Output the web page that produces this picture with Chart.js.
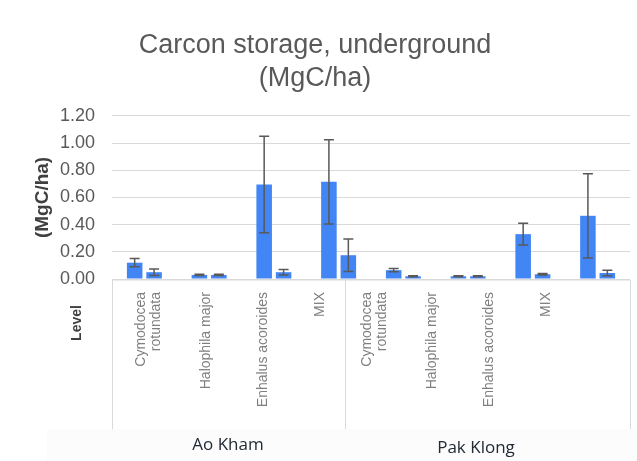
<!DOCTYPE html>
<html>
<head>
<meta charset="utf-8">
<title>Carcon storage, underground</title>
<script src="https://cdn.jsdelivr.net/npm/chart.js@4.4.1/dist/chart.umd.min.js"></script>
<style>
  html, body { margin: 0; padding: 0; background: #fff; }
  canvas { display: block; }
</style>
</head>
<body>
<canvas id="barChart" width="637" height="461"></canvas>
<script>
// sites and species along the category axis
const sites = ["Ao Kham", "Pak Klong"];
const species = [["Cymodocea", "rotundata"], "Halophila major", "Enhalus acoroides", "MIX"];
const yTicks = [0, 0.2, 0.4, 0.6, 0.8, 1.0, 1.2];

// first and second bar of each pair, with +/- error
const valuesA = [0.12, 0.03, 0.695, 0.715, 0.065, 0.02, 0.33, 0.465];
const errorsA = [0.03, 0.005, 0.355, 0.31, 0.012, 0.004, 0.08, 0.31];
const valuesB = [0.05, 0.03, 0.05, 0.175, 0.02, 0.02, 0.035, 0.044];
const errorsB = [0.024, 0.005, 0.02, 0.12, 0.004, 0.004, 0.005, 0.02];

const labels = sites.flatMap(site => species.map(sp => site + " " + [].concat(sp).join(" ")));
const font = "'Liberation Sans', Arial, sans-serif";

const errorBars = {
  id: 'errorBars',
  afterDatasetsDraw(chart) {
    const ctx = chart.ctx;
    const y = chart.scales.y;
    ctx.save();
    ctx.strokeStyle = '#595959';
    ctx.lineWidth = 1.5;
    chart.data.datasets.forEach((ds, i) => {
      chart.getDatasetMeta(i).data.forEach((bar, j) => {
        const v = ds.data[j], e = ds.errors[j];
        const top = y.getPixelForValue(v + e);
        const bottom = y.getPixelForValue(Math.max(v - e, 0));
        ctx.beginPath();
        ctx.moveTo(bar.x, top); ctx.lineTo(bar.x, bottom);
        ctx.moveTo(bar.x - 5, top); ctx.lineTo(bar.x + 5, top);
        ctx.moveTo(bar.x - 5, bottom); ctx.lineTo(bar.x + 5, bottom);
        ctx.stroke();
      });
    });
    ctx.restore();
  }
};

// the label table under the plot (as pasted from the spreadsheet)
const labelTable = {
  id: 'labelTable',
  afterDraw(chart) {
    const ctx = chart.ctx;
    const top = chart.chartArea.bottom + 1;
    const bottom = 429;
    const groupEdges = [chart.chartArea.left, 345, chart.chartArea.right];
    const labelOffsets = [37, 30];
    const labelStep = 57;
    const siteX = [228, 476];

    ctx.save();
    ctx.fillStyle = '#fcfcfc';
    ctx.fillRect(47, bottom, chart.width - 47, chart.height - bottom);

    ctx.strokeStyle = '#d9d9d9';
    ctx.lineWidth = 1;
    ctx.beginPath();
    ctx.moveTo(groupEdges[0], top); ctx.lineTo(groupEdges[2], top);
    groupEdges.forEach(x => { ctx.moveTo(x + 0.5, top); ctx.lineTo(x + 0.5, bottom); });
    ctx.stroke();

    ctx.fillStyle = '#7f7f7f';
    ctx.font = "14px " + font;
    ctx.textAlign = 'right';
    ctx.textBaseline = 'middle';
    sites.forEach((site, g) => {
      species.forEach((sp, i) => {
        const lines = [].concat(sp);
        const cx = groupEdges[g] + labelOffsets[g] + labelStep * i;
        lines.forEach((line, k) => {
          const x = cx + (k - (lines.length - 1) / 2) * 15;
          ctx.save();
          ctx.translate(x, 292);
          ctx.rotate(-Math.PI / 2);
          ctx.fillText(line, 0, 0);
          ctx.restore();
        });
      });
    });

    ctx.fillStyle = '#404040';
    ctx.font = "bold 14px " + font;
    ctx.textAlign = 'center';
    ctx.save();
    ctx.translate(77, 323);
    ctx.rotate(-Math.PI / 2);
    ctx.fillText("Level", 0, 0);
    ctx.restore();

    ctx.fillStyle = '#222a35';
    ctx.font = "17px 'Open Sans', sans-serif";
    sites.forEach((site, g) => ctx.fillText(site, siteX[g], 445 + g * 3));
    ctx.restore();
  }
};

const ctxB = document.getElementById("barChart");
new Chart(ctxB, {
  type: 'bar',
  data: {
    labels: labels,
    datasets: [
      { label: "A", data: valuesA, errors: errorsA, backgroundColor: '#4285f4' },
      { label: "B", data: valuesB, errors: errorsB, backgroundColor: '#4285f4' }
    ]
  },
  options: {
    responsive: false,
    animation: false,
    datasets: { bar: { categoryPercentage: 0.6, barPercentage: 0.8 } },
    layout: { padding: { left: 0, right: 7, bottom: 182 } },
    plugins: {
      legend: { display: false },
      tooltip: { enabled: false },
      title: {
        display: true,
        text: ["Carcon storage, underground", "(MgC/ha)"],
        color: '#595959',
        font: { family: font, size: 27, weight: 'normal', lineHeight: 1.22 },
        padding: { top: 29, bottom: 21 }
      }
    },
    scales: {
      x: { display: false },
      y: {
        min: 0,
        max: 1.2,
        afterBuildTicks: s => { s.ticks = yTicks.map(v => ({ value: v })); },
        afterFit: s => { s.width = 112; },
        border: { display: false },
        grid: { color: '#d9d9d9', drawTicks: false },
        ticks: {
          padding: 17,
          color: '#595959',
          font: { family: font, size: 18 },
          callback: v => v.toFixed(2)
        },
        title: {
          display: true,
          text: "(MgC/ha)",
          color: '#404040',
          font: { family: font, size: 19, weight: 'bold' },
          padding: { top: 31, bottom: 0 }
        }
      }
    }
  },
  plugins: [errorBars, labelTable]
});
</script>
</body>
</html>
